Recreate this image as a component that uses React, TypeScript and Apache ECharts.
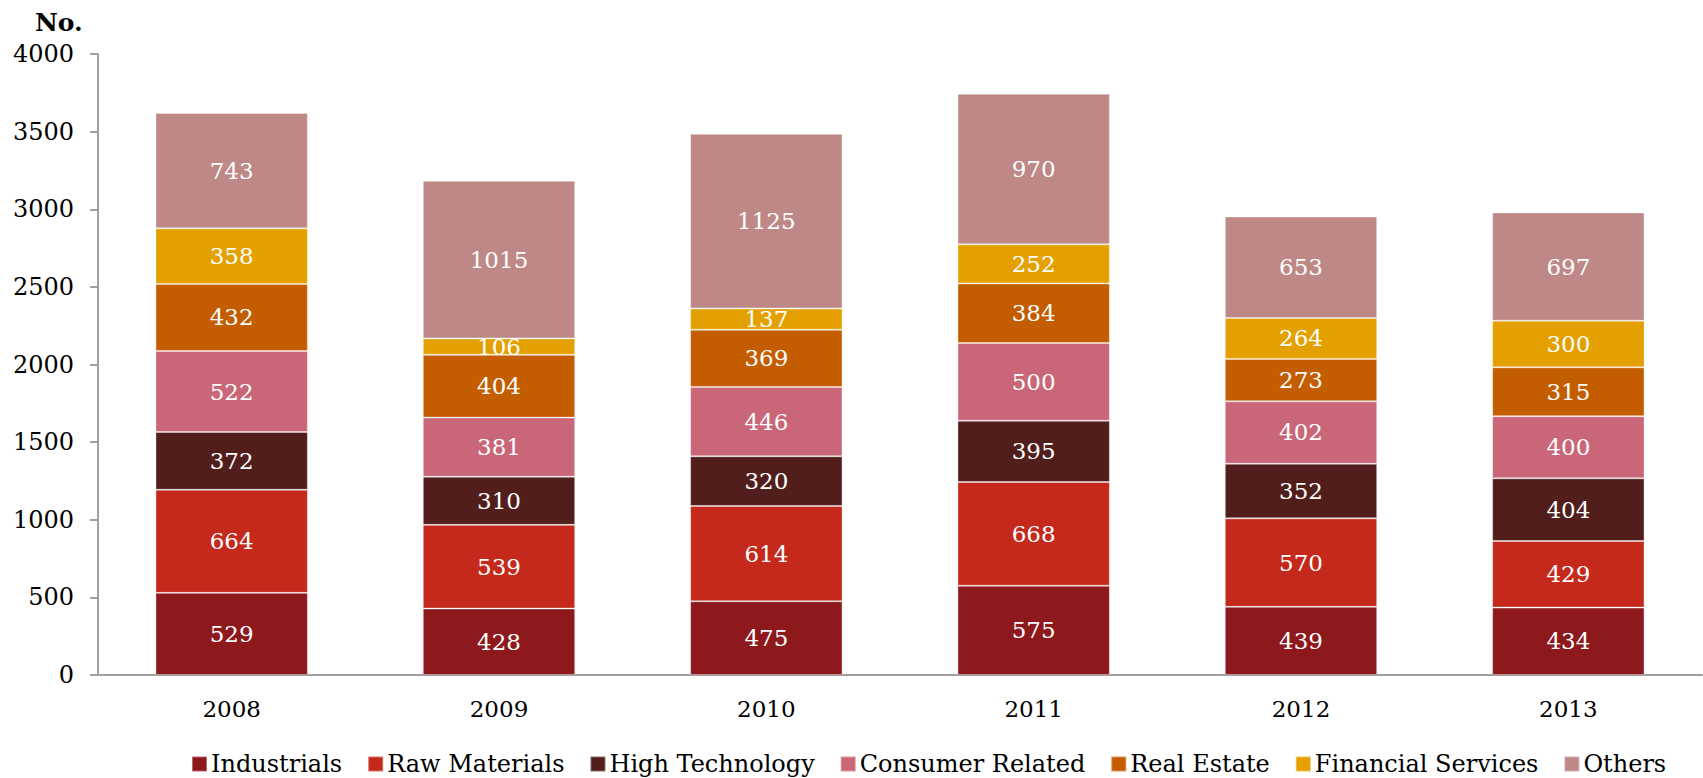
import React, { useEffect, useRef } from "react";
import * as echarts from "echarts";

const years = ["2008", "2009", "2010", "2011", "2012", "2013"];
const industrials = [529, 428, 475, 575, 439, 434];
const rawMaterials = [664, 539, 614, 668, 570, 429];
const highTechnology = [372, 310, 320, 395, 352, 404];
const consumerRelated = [522, 381, 446, 500, 402, 400];
const realEstate = [432, 404, 369, 384, 273, 315];
const financialServices = [358, 106, 137, 252, 264, 300];
const others = [743, 1015, 1125, 970, 653, 697];

const seriesDefs = [
  { name: "Industrials", data: industrials, color: "#8D191C" },
  { name: "Raw Materials", data: rawMaterials, color: "#C5291C" },
  { name: "High Technology", data: highTechnology, color: "#511E1C" },
  { name: "Consumer Related", data: consumerRelated, color: "#C96677" },
  { name: "Real Estate", data: realEstate, color: "#C45D00" },
  { name: "Financial Services", data: financialServices, color: "#E3A000" },
  { name: "Others", data: others, color: "#BE8886" },
];

const FONT = "'DejaVu Serif', serif";

export default function App() {
  const ref = useRef<HTMLDivElement>(null);
  useEffect(() => {
    if (!ref.current) return;
    const chart = echarts.init(ref.current, null, { renderer: "svg" });
    chart.setOption({
      animation: false,
      backgroundColor: "#ffffff",
      textStyle: { fontFamily: FONT },
      title: {
        text: "No.",
        left: 30,
        top: 5,
        textStyle: { fontFamily: FONT, fontSize: 25, fontWeight: "bold", color: "#000" },
      },
      grid: { left: 98, right: 1, top: 54, bottom: 103, containLabel: false },
      legend: {
        top: 747,
        left: 186,
        icon: "rect",
        itemWidth: 15,
        itemHeight: 15,
        itemGap: 25,
        textStyle: { fontFamily: FONT, fontSize: 24, color: "#000", padding: [0, 0, 0, -1] },
        data: seriesDefs.map((s) => s.name),
      },
      xAxis: {
        type: "category",
        data: years,
        axisLine: { lineStyle: { color: "#A0A0A0", width: 2 } },
        axisTick: { show: false },
        axisLabel: { fontFamily: FONT, fontSize: 23, color: "#000", margin: 22 },
      },
      yAxis: {
        type: "value",
        min: 0,
        max: 4000,
        interval: 500,
        splitLine: { show: false },
        axisLine: { show: true, lineStyle: { color: "#A0A0A0", width: 2 } },
        axisTick: { show: true, length: 8, lineStyle: { color: "#A0A0A0", width: 2 } },
        axisLabel: {
          fontFamily: FONT,
          fontSize: 24,
          color: "#000",
          margin: 24,
          formatter: (v: number) => String(v),
        },
      },
      series: seriesDefs.map((s) => ({
        name: s.name,
        type: "bar",
        stack: "total",
        barWidth: "57%",
        data: s.data,
        itemStyle: { color: s.color, borderColor: "rgba(255,255,255,0.35)", borderWidth: 1 },
        label: {
          show: true,
          position: "inside",
          color: "#fff",
          fontFamily: FONT,
          fontSize: 23,
        },
      })),
    });
    return () => chart.dispose();
  }, []);
  return (
    <div
      ref={ref}
      style={{ position: "absolute", left: 0, top: 0, width: 1703, height: 778 }}
    />
  );
}
